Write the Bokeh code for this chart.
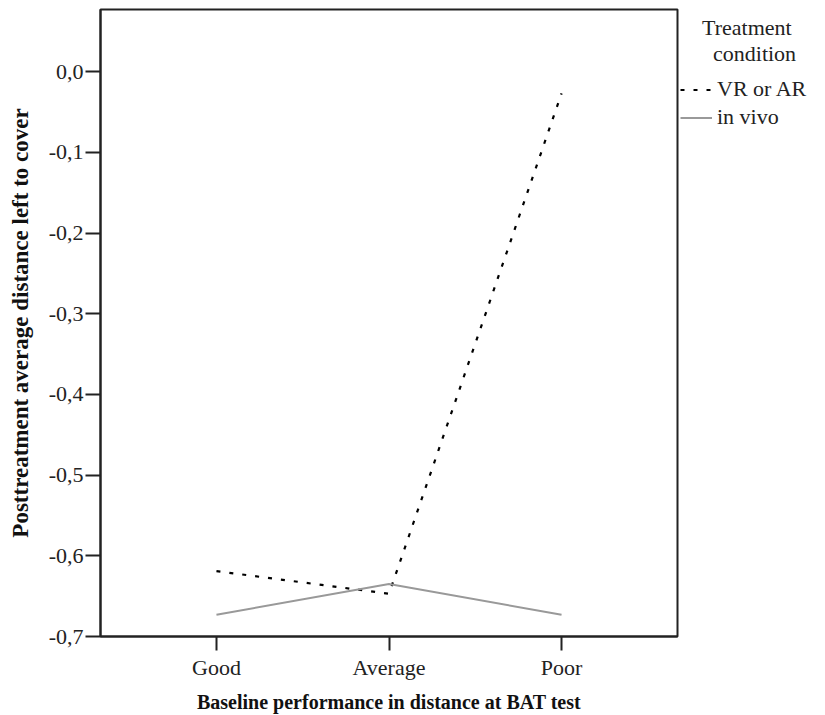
from bokeh.plotting import figure
from bokeh.layouts import row
from bokeh.models import (FactorRange, Range1d, FixedTicker, CustomJSTickFormatter,
                          Legend, LegendItem)
from bokeh.embed import file_html
from bokeh.resources import INLINE

# ---- data ----
categories = ["Good", "Average", "Poor"]
vr_ar = [-0.619, -0.647, -0.027]
in_vivo = [-0.673, -0.635, -0.673]
y_ticks = [-0.7, -0.6, -0.5, -0.4, -0.3, -0.2, -0.1, 0.0]
series_names = ["VR or AR", "in vivo"]
legend_title = "\u00a0\u00a0\u00a0\u00a0Treatment\n\u00a0\u00a0\u00a0\u00a0\u00a0\u00a0condition"
x_title = "Baseline performance in distance at BAT test"
y_title = "Posttreatment average distance left to cover"

FONT = "Liberation Serif"
DASH = dict(line_color="black", line_width=2.2, line_dash="4 9")
SOLID = dict(line_color="#999999", line_width=2)

# ---- main chart ----
p = figure(width=679, height=715, output_backend="svg", toolbar_location=None,
           x_range=FactorRange(factors=categories, range_padding=0.172,
                               range_padding_units="absolute"),
           y_range=Range1d(-0.7, 0.077),
           min_border_left=100, min_border_right=2, min_border_top=9,
           min_border_bottom=79)

p.background_fill_color = "white"
p.border_fill_color = "white"
p.grid.visible = False
p.outline_line_color = "#222222"
p.outline_line_width = 2

p.line(categories, vr_ar, **DASH)
p.line(categories, in_vivo, **SOLID)

for ax in (p.xaxis[0], p.yaxis[0]):
    ax.axis_line_color = "#222222"
    ax.axis_line_width = 2
    ax.major_tick_line_color = "#222222"
    ax.major_tick_line_width = 2
    ax.major_tick_in = 0
    ax.minor_tick_line_color = None
    ax.major_label_text_font = FONT
    ax.major_label_text_font_size = "22px"
    ax.major_label_text_color = "#222222"
    ax.axis_label_text_font = FONT
    ax.axis_label_text_font_style = "bold"
    ax.axis_label_text_color = "#111111"

p.xaxis.axis_label_text_font_size = "20px"
p.yaxis.axis_label_text_font_size = "23px"
p.xaxis.major_tick_out = 14
p.yaxis.major_tick_out = 15
p.xaxis.major_label_standoff = 4
p.yaxis.major_label_standoff = 2
p.xaxis.axis_label = x_title
p.yaxis.axis_label = y_title
p.xaxis.axis_label_standoff = 8
p.yaxis.axis_label_standoff = 13

p.yaxis.ticker = FixedTicker(ticks=y_ticks)
p.yaxis.formatter = CustomJSTickFormatter(
    code="return tick.toFixed(1).replace('.', ',');")

# ---- legend panel (to the right of the chart) ----
# its lines use the same data but fall outside this panel's y range (hidden),
# they only provide the legend swatches
q = figure(width=144, height=715, output_backend="svg", toolbar_location=None,
           x_range=FactorRange(factors=categories), y_range=Range1d(5, 6),
           min_border_left=0, min_border_right=0, min_border_top=0,
           min_border_bottom=0, x_axis_type=None, y_axis_type=None)
q.grid.visible = False
q.outline_line_color = None
q.background_fill_color = "white"
q.border_fill_color = "white"
k1 = q.line(categories, vr_ar, **DASH)
k2 = q.line(categories, in_vivo, **SOLID)

legend = Legend(items=[LegendItem(label=series_names[0], renderers=[k1]),
                       LegendItem(label=series_names[1], renderers=[k2])],
                location=(1, 506), padding=0, margin=0, spacing=2,
                glyph_width=32, glyph_height=25, label_height=25,
                label_standoff=5, border_line_color=None,
                background_fill_alpha=0,
                title=legend_title, title_text_font=FONT,
                title_text_font_size="22px", title_text_font_style="normal",
                title_text_line_height=1.05,
                title_text_color="#222222", title_standoff=9,
                label_text_font=FONT, label_text_font_size="22px",
                label_text_color="#222222")
q.add_layout(legend, "center")

layout = row(p, q)
open("out.html", "w").write(file_html(layout, INLINE))
